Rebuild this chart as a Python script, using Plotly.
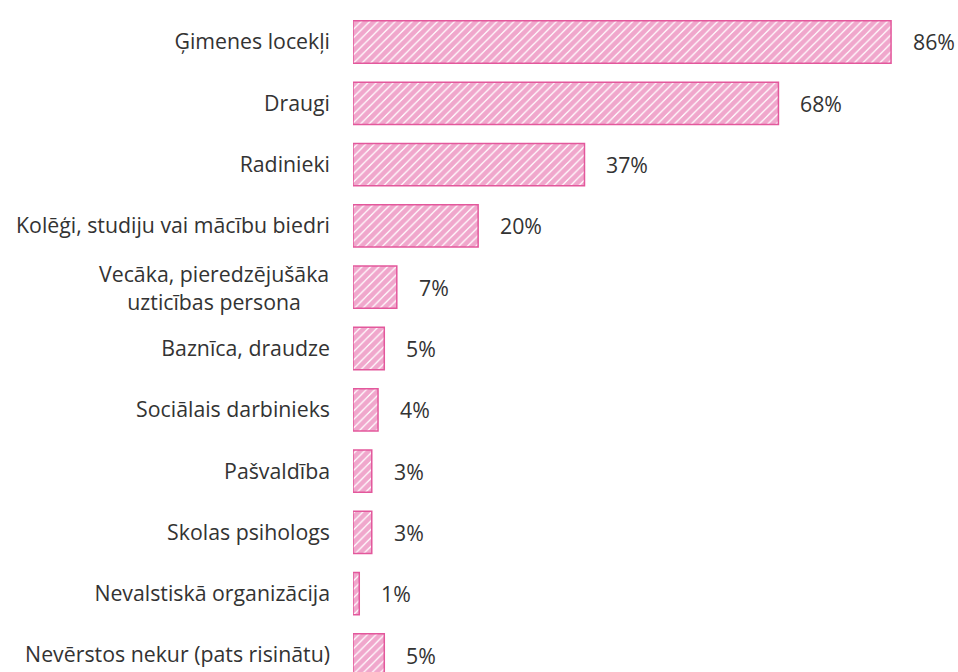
import plotly.graph_objects as go

categories = [
    "Ģimenes locekļi",
    "Draugi",
    "Radinieki",
    "Kolēģi, studiju vai mācību biedri",
    "Vecāka, pieredzējušāka<br>uzticības persona",
    "Baznīca, draudze",
    "Sociālais darbinieks",
    "Pašvaldība",
    "Skolas psihologs",
    "Nevalstiskā organizācija",
    "Nevērstos nekur (pats risinātu)",
]
values = [86, 68, 37, 20, 7, 5, 4, 3, 3, 1, 5]
value_labels = ["86%", "68%", "37%", "20%", "7%", "5%", "4%", "3%", "3%", "1%", "5%"]

PINK = "#E3589C"
FILL = "#E2509A"
FONT = "Open Sans"
TXT = "#333333"
FS = 21.3

multi = [c for c in categories if "<br>" in c]
ticktext = ["" if c in multi else c for c in categories]

fig = go.Figure()
fig.add_trace(go.Bar(
    y=categories,
    x=values,
    orientation="h",
    width=0.69,
    marker=dict(
        color="white",
        line=dict(color=PINK, width=1.5),
        pattern=dict(shape="/", fgcolor=FILL, bgcolor="white",
                     size=6, solidity=0.8, fillmode="overlay"),
    ),
    hoverinfo="skip",
))

for c, v, t in zip(categories, values, value_labels):
    fig.add_annotation(x=v, y=c, text=t, showarrow=False,
                       xanchor="left", xshift=20,
                       font=dict(family=FONT, size=FS, color=TXT))

for c in multi:
    fig.add_annotation(x=0, xref="paper", y=c, text=c, showarrow=False,
                       xanchor="right", xshift=-22, align="center",
                       font=dict(family=FONT, size=FS, color=TXT))

fig.update_layout(
    width=958, height=672,
    margin=dict(l=353, r=0, t=0, b=0, autoexpand=False),
    paper_bgcolor="white", plot_bgcolor="white",
    showlegend=False,
    xaxis=dict(range=[0, 96.7], visible=False),
    yaxis=dict(
        range=[10.277, -0.685],
        categoryorder="array", categoryarray=categories,
        tickmode="array", tickvals=categories, ticktext=ticktext,
        showgrid=False, zeroline=False, showline=False,
        ticks="", ticklabelstandoff=22, automargin=False,
        tickfont=dict(family=FONT, size=FS, color=TXT),
    ),
)

fig.write_html("out.html", config={"displayModeBar": False},
               post_script="document.body.style.margin='0';")
